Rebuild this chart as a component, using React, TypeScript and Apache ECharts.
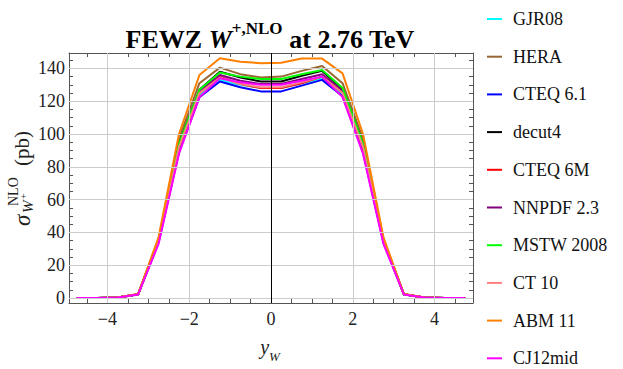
import React, { useEffect, useRef } from 'react';
import * as echarts from 'echarts';

const rapidity = [-4.75, -4.25, -3.75, -3.25, -2.75, -2.25, -1.75, -1.25, -0.75, -0.25, 0.25, 0.75, 1.25, 1.75, 2.25, 2.75, 3.25, 3.75, 4.25, 4.75];

const gjr08 = [0.01, 0.05, 0.3, 2.2, 34, 90, 123.5, 133, 130, 128, 128, 131, 134, 124, 90, 34, 2.2, 0.3, 0.05, 0.01];
const hera = [0.01, 0.05, 0.3, 2.4, 36, 97, 131, 140.5, 136.5, 134.5, 135, 138.5, 141.5, 131, 97, 36, 2.4, 0.3, 0.05, 0.01];
const cteq61 = [0.01, 0.05, 0.3, 2.2, 34, 89, 122.5, 132, 128.5, 126, 126, 129.5, 133, 123, 89, 34, 2.2, 0.3, 0.05, 0.01];
const decut4 = [0.01, 0.05, 0.3, 2.3, 35, 94, 127, 138, 134.5, 132, 132, 135.5, 138.5, 127.5, 94, 35, 2.3, 0.3, 0.05, 0.01];
const cteq6m = [0.01, 0.05, 0.3, 2.3, 34.5, 92, 125, 135, 130.5, 128, 128, 131, 135, 125.5, 92, 34.5, 2.3, 0.3, 0.05, 0.01];
const nnpdf23 = [0.01, 0.05, 0.3, 2.3, 35, 93, 126, 136, 132.5, 130.5, 130.5, 133.5, 136.5, 126.5, 93, 35, 2.3, 0.3, 0.05, 0.01];
const mstw2008 = [0.01, 0.05, 0.3, 2.3, 35, 94, 127, 137.5, 135, 133.5, 133.5, 136.5, 139, 128, 94, 35, 2.3, 0.3, 0.05, 0.01];
const ct10 = [0.01, 0.05, 0.3, 2.3, 34.5, 92, 125, 134.5, 130.5, 128.5, 128.5, 131.5, 135, 125, 92, 34.5, 2.3, 0.3, 0.05, 0.01];
const abm11 = [0.01, 0.05, 0.3, 2.5, 37, 100, 136, 146.2, 144, 143.2, 143.5, 146, 146, 137, 100, 37, 2.5, 0.3, 0.05, 0.01];
const cj12mid = [0.01, 0.05, 0.3, 2.2, 33, 88, 122.5, 134, 131.5, 130, 130, 132.5, 135, 122.5, 88, 33, 2.2, 0.3, 0.05, 0.01];

const seriesNames = ['GJR08', 'HERA', 'CTEQ 6.1', 'decut4', 'CTEQ 6M', 'NNPDF 2.3', 'MSTW 2008', 'CT 10', 'ABM 11', 'CJ12mid'];
const seriesValues = [gjr08, hera, cteq61, decut4, cteq6m, nnpdf23, mstw2008, ct10, abm11, cj12mid];
const seriesColors = ['#00ffff', '#996633', '#0000ff', '#000000', '#ff0000', '#800080', '#00ff00', '#ff8080', '#ff8000', '#ff00ff'];

const xLabelTicks = [-4, -2, 0, 2, 4];
const xMinorTicks = [-4.5, -4, -3.5, -3, -2.5, -2, -1.5, -1, -0.5, 0, 0.5, 1, 1.5, 2, 2.5, 3, 3.5, 4, 4.5];
const xGrid = [-4, -2, 2, 4];
const yLabelTicks = [0, 20, 40, 60, 80, 100, 120, 140];
const yMinorTicks = [0, 5, 10, 15, 20, 25, 30, 35, 40, 45, 50, 55, 60, 65, 70, 75, 80, 85, 90, 95, 100, 105, 110, 115, 120, 125, 130, 135, 140, 145];

const SERIF = '"Liberation Serif", "DejaVu Serif", serif';
const FRAME = '#555555';
const INK = '#222222';

export default function App() {
  const ref = useRef<HTMLDivElement>(null);
  useEffect(() => {
    if (!ref.current) return;
    const chart = echarts.init(ref.current, undefined, { renderer: 'svg' });
    const xBase = (position: 'bottom' | 'top', labels: boolean) => ({
      type: 'value',
      min: -4.94,
      max: 4.94,
      position,
      axisLine: { show: true, onZero: false, lineStyle: { color: FRAME, width: 1 } },
      axisTick: { show: true, inside: true, length: 4, customValues: xMinorTicks, lineStyle: { color: FRAME } },
      axisLabel: labels
        ? { show: true, customValues: xLabelTicks, fontFamily: SERIF, fontSize: 18, color: INK, margin: 7, formatter: (v: number) => (v < 0 ? '\u2212' + Math.abs(v) : String(v)) }
        : { show: false },
      splitLine: { show: false },
    });
    const yBase = (position: 'left' | 'right', labels: boolean) => ({
      type: 'value',
      min: -3,
      max: 149.4,
      position,
      axisLine: { show: true, onZero: false, lineStyle: { color: FRAME, width: 1 } },
      axisTick: { show: true, inside: true, length: 4, customValues: yMinorTicks, lineStyle: { color: FRAME } },
      axisLabel: labels
        ? { show: true, customValues: yLabelTicks, fontFamily: SERIF, fontSize: 18, color: INK, margin: 4 }
        : { show: false },
      splitLine: { show: false },
    });

    const gridLines: any[] = [];
    xGrid.forEach((v) => gridLines.push({ xAxis: v, lineStyle: { color: '#cccccc', width: 1, type: 'solid' } }));
    yLabelTicks.forEach((v) => gridLines.push({ yAxis: v, lineStyle: { color: '#cccccc', width: 1, type: 'solid' } }));
    gridLines.push({ xAxis: 0, lineStyle: { color: '#000000', width: 1, type: 'solid' } });

    const series: any[] = [
      {
        name: '__grid',
        type: 'line',
        data: [],
        z: 1,
        silent: true,
        markLine: { silent: true, symbol: 'none', label: { show: false }, data: gridLines, animation: false },
      },
    ];
    seriesNames.forEach((name, i) => {
      series.push({
        name,
        type: 'line',
        data: rapidity.map((x, j) => [x, seriesValues[i][j]]),
        showSymbol: false,
        symbol: 'none',
        z: 3,
        lineStyle: { color: seriesColors[i], width: 2 },
        itemStyle: { color: seriesColors[i] },
      });
    });

    const txt = (x: number, y: number, text: string, size: number, italic: boolean, va: string = 'middle') => ({
      type: 'text',
      x,
      y,
      style: {
        text,
        fontFamily: SERIF,
        fontSize: size,
        fontStyle: italic ? 'italic' : 'normal',
        fill: INK,
        align: 'left',
        verticalAlign: va,
      },
    });

    chart.setOption({
      animation: false,
      grid: { left: 69, right: 150, top: 53, bottom: 66 },
      xAxis: [xBase('bottom', true), xBase('top', false)],
      yAxis: [yBase('left', true), yBase('right', false)],
      legend: {
        data: seriesNames.map((n) => ({ name: n, icon: 'rect' })),
        orient: 'vertical',
        left: 487,
        top: 10,
        padding: 0,
        itemWidth: 15,
        itemHeight: 2,
        itemGap: 19.7,
        textStyle: { fontFamily: SERIF, fontSize: 18, lineHeight: 18, color: '#111', padding: [0, 0, 0, 6] },
        selectedMode: false,
      },
      series,
      graphic: [
        {
          type: 'text',
          x: 270,
          y: 36,
          style: {
            text: '{b|FEWZ }{w|W}{s|+,NLO}{b| at 2.76 TeV}',
            align: 'center',
            verticalAlign: 'middle',
            fill: '#000',
            rich: {
              b: { fontFamily: SERIF, fontWeight: 'bold', fontSize: 26, lineHeight: 32, verticalAlign: 'bottom', fill: '#000' },
              w: { fontFamily: SERIF, fontWeight: 'bold', fontStyle: 'italic', fontSize: 26, lineHeight: 32, verticalAlign: 'bottom', fill: '#000' },
              s: { fontFamily: SERIF, fontWeight: 'bold', fontSize: 17, lineHeight: 17, verticalAlign: 'top', fill: '#000' },
            },
          },
        },
        {
          type: 'group',
          x: 22,
          y: 226,
          rotation: Math.PI / 2,
          children: [
            txt(0, 0, '\u03c3', 23, true),
            txt(13, 6, 'W', 15, true),
            txt(27, 1, '+', 10, false),
            txt(20, -9, 'NLO', 14, false),
            txt(60, 0, '(pb)', 21, false),
          ],
        },
        {
          type: 'text',
          x: 270,
          y: 350,
          style: {
            text: '{y|y}{w|W}',
            align: 'center',
            verticalAlign: 'middle',
            fill: INK,
            rich: {
              y: { fontFamily: SERIF, fontStyle: 'italic', fontSize: 20, lineHeight: 26, verticalAlign: 'top', fill: INK },
              w: { fontFamily: SERIF, fontStyle: 'italic', fontSize: 13, lineHeight: 13, verticalAlign: 'bottom', fill: INK },
            },
          },
        },
      ],
    });
    return () => chart.dispose();
  }, []);
  return <div ref={ref} style={{ width: 623, height: 369, position: 'absolute', left: 0, top: 0 }} />;
}
